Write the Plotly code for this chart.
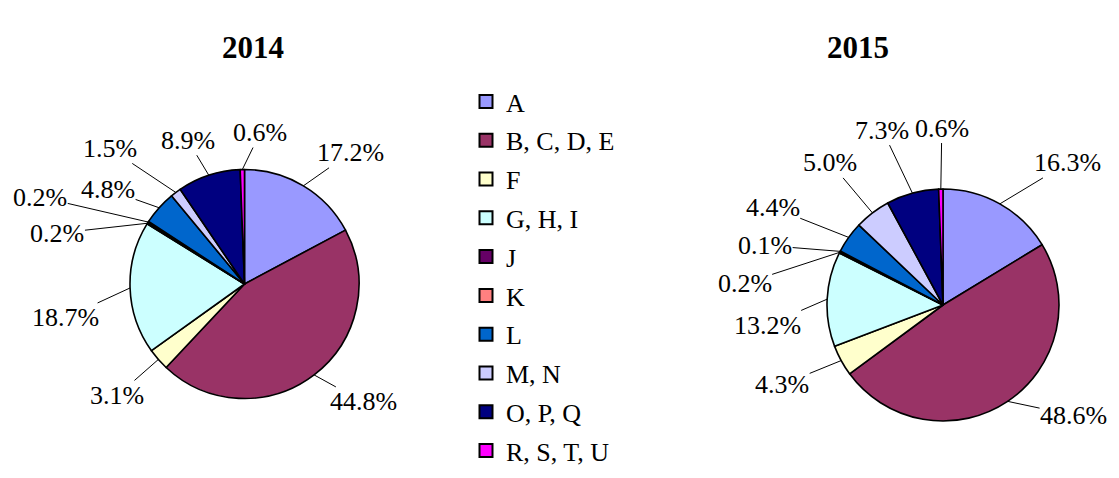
import math
import plotly.graph_objects as go

# ---- data ----
categories = ["A", "B, C, D, E", "F", "G, H, I", "J", "K", "L", "M, N", "O, P, Q", "R, S, T, U"]
values_2014 = [17.2, 44.8, 3.1, 18.7, 0.2, 0.2, 4.8, 1.5, 8.9, 0.6]
values_2015 = [16.3, 48.6, 4.3, 13.2, 0.2, 0.1, 4.4, 5.0, 7.3, 0.6]
titles = ["2014", "2015"]

# ---- style / layout ----
colors = ["#9999FF", "#993366", "#FFFFCC", "#CCFFFF", "#660066",
          "#FF8080", "#0066CC", "#CCCCFF", "#000080", "#FF00FF"]
PAGE_W, PAGE_H = 1119, 478
OFF = 8  # default body margin of the html page
W, H = PAGE_W - OFF, PAGE_H - OFF
FONT = "Liberation Serif"
FS = 26


def px(x):
    return (x - OFF) / W


def py(y):
    return 1 - (y - OFF) / H


# pie geometry in page pixels: (center x, center y, radius)
pie_geom = [(244.5, 284, 114.5), (943, 305, 116)]
# label offsets (pixels) from slice edge to label centre
label_offsets = [
    [(47, -33), (49, 27), (-41, 36), (-65, 30), (-90, 10), (-108, -25),
     (-51, -18), (-66, -44), (-21, -35), (18, -37)],
    [(68, -41), (66, 14), (-59, 24), (-60, 26), (-95, 31), (-75, -6),
     (-76, -30), (-42, -50), (-30, -63), (1, -61)],
]
title_pos = [(220, 28), (891, 28)]

fig = go.Figure()
annotations = []
for k, vals in enumerate([values_2014, values_2015]):
    cx, cy, r = pie_geom[k]
    fig.add_trace(go.Pie(
        labels=categories, values=vals, sort=False, direction="clockwise",
        rotation=0, textinfo="none", hoverinfo="label+percent",
        marker=dict(colors=colors, line=dict(color="black", width=1.6)),
        domain=dict(x=[px(cx - r), px(cx + r)], y=[py(cy + r), py(cy - r)]),
        showlegend=False,
    ))
    total = sum(vals)
    cum = 0.0
    for i, v in enumerate(vals):
        mid = (cum + v / 2) / total
        cum += v
        th = 2 * math.pi * mid
        ex = cx + r * math.sin(th)
        ey = cy - r * math.cos(th)
        dx, dy = label_offsets[k][i]
        annotations.append(dict(
            x=px(ex), y=py(ey), xref="paper", yref="paper",
            text=f"{v:.1f}%", showarrow=True, arrowhead=0, arrowwidth=1,
            arrowcolor="black", ax=dx, ay=dy, standoff=0, borderpad=0,
            font=dict(family=FONT, size=FS, color="black"),
        ))
    tx, ty = title_pos[k]
    annotations.append(dict(
        x=px(tx), y=py(ty), xref="paper", yref="paper", showarrow=False,
        text=f"<b>{titles[k]}</b>", font=dict(family=FONT, size=31, color="black"),
    ))

# legend entries
for i, c in enumerate(categories):
    fig.add_trace(go.Scatter(
        x=[None], y=[None], mode="markers", name=c, legendgroup=c,
        marker=dict(symbol="square", size=13, color=colors[i],
                    line=dict(color="black", width=2)),
        showlegend=True,
    ))

fig.update_layout(
    width=W, height=H,
    margin=dict(l=0, r=0, t=0, b=0, autoexpand=False),
    paper_bgcolor="white", plot_bgcolor="white",
    xaxis=dict(visible=False), yaxis=dict(visible=False),
    annotations=annotations,
    legend=dict(x=px(466), y=py(78), xanchor="left", yanchor="top",
                font=dict(family=FONT, size=FS, color="black"),
                tracegroupgap=2, bgcolor="rgba(0,0,0,0)", maxheight=600),
    font=dict(family=FONT, color="black"),
)

fig.write_html("out.html")
